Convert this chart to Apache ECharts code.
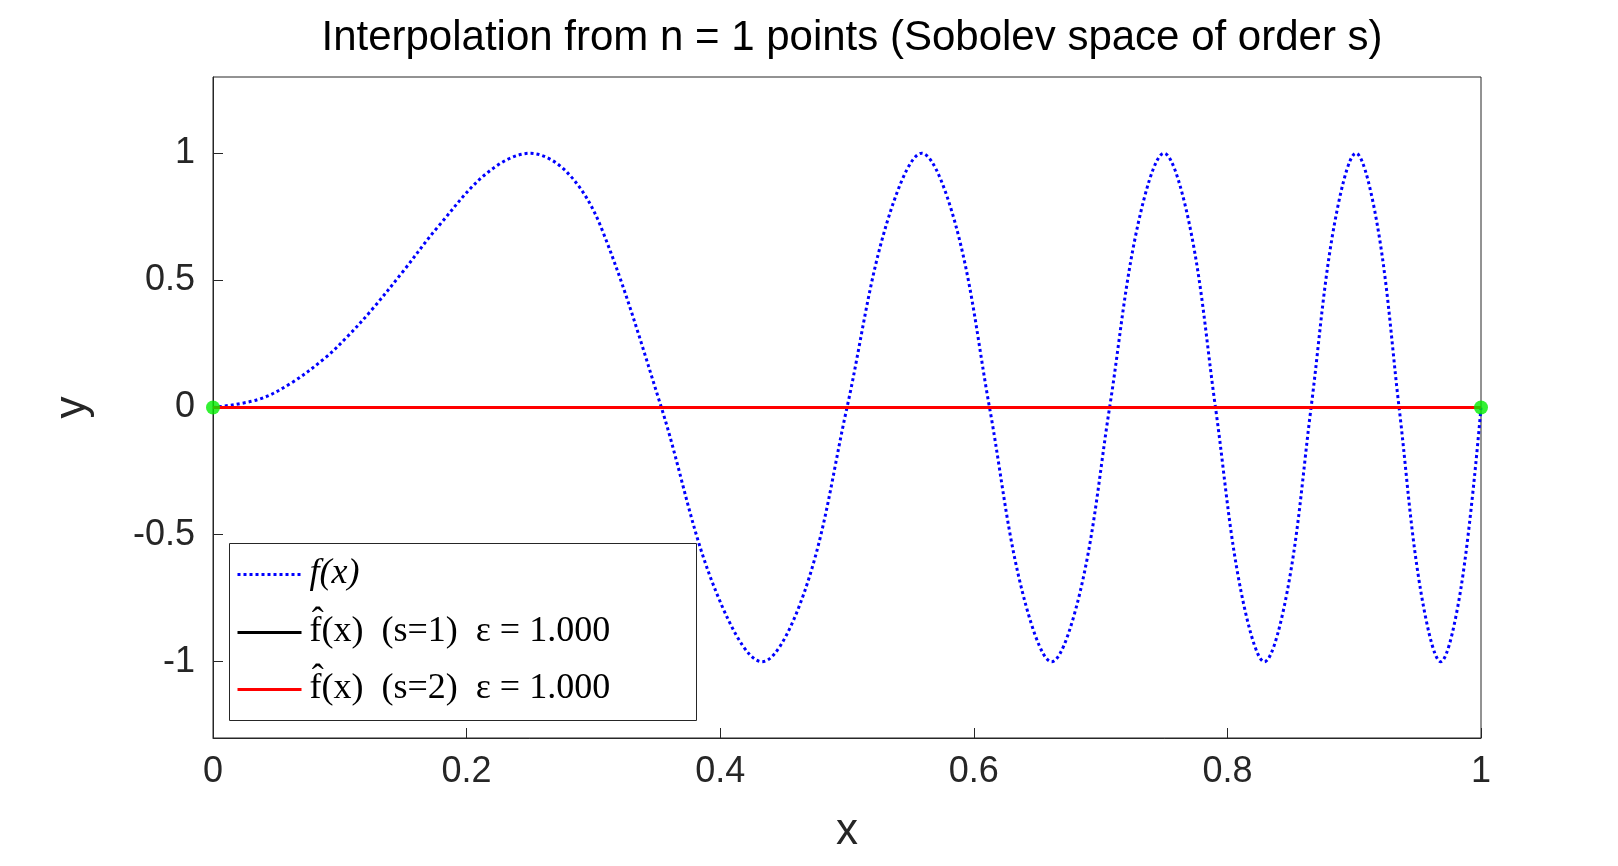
<!DOCTYPE html>
<html><head><meta charset="utf-8">
<script src="https://cdn.jsdelivr.net/npm/echarts@6/dist/echarts.min.js"></script>
<style>html,body{margin:0;background:#fff}#c{width:1618px;height:866px}</style>
</head><body><div id="c"></div>
<script>
// f(x) samples: [x, y]
const fX = [0,0.0354,0.061,0.0884,0.106,0.125,0.15,0.1768,0.2165,0.25,0.2795,0.3062,0.3536,0.3953,0.433,0.4677,0.5,0.5303,0.559,0.5863,0.6124,0.6374,0.6614,0.6847,0.7071,0.7289,0.75,0.7706,0.7906,0.8101,0.8292,0.8478,0.866,0.8839,0.9014,0.9186,0.9354,0.952,0.9682,0.9843,1];
const fY = [0,0.031,0.094,0.195,0.279,0.383,0.536,0.707,0.924,1,0.924,0.707,0,-0.707,-1,-0.707,0,0.707,1,0.707,0,-0.707,-1,-0.707,0,0.707,1,0.707,0,-0.707,-1,-0.707,0,0.707,1,0.707,0,-0.707,-1,-0.707,0];
const interpS1 = [[0,0],[1,0]];
const interpS2 = [[0,0],[1,0]];
const nodes = [[0,0],[1,0]];
const yTicks = [-1,-0.5,0,0.5,1];

const chart = echarts.init(document.getElementById('c'));
const lbl = {fontFamily:'Liberation Sans', fontSize:36, color:'#262626'};
const tick = {inside:true, length:10, lineStyle:{color:'#262626'}};
chart.setOption({
  animation:false,
  title:{text:'Interpolation from n = 1 points (Sobolev space of order s)', left:847, top:12, textAlign:'center',
    textStyle:{fontFamily:'Liberation Sans', fontSize:42, fontWeight:'normal', color:'#000'}},
  grid:{left:213, right:137, top:77, bottom:128, show:true, borderColor:'#262626', borderWidth:1},
  xAxis:{type:'value', min:0, max:1, interval:0.2,
    axisLine:{onZero:false, lineStyle:{color:'#262626'}}, axisTick:tick, splitLine:{show:false},
    axisLabel:Object.assign({margin:16, formatter:v=>String(+v.toFixed(1))}, lbl),
    name:'x', nameLocation:'middle', nameGap:72, nameTextStyle:{fontFamily:'Liberation Sans', fontSize:44, color:'#262626'}},
  yAxis:{type:'value', min:-1.3, max:1.3,
    axisLine:{onZero:false, lineStyle:{color:'#262626'}}, splitLine:{show:false},
    axisTick:Object.assign({customValues:yTicks}, tick),
    axisLabel:Object.assign({customValues:yTicks, margin:18, formatter:v=>String(+(+v).toFixed(1))}, lbl),
    name:'y', nameLocation:'middle', nameGap:118, nameTextStyle:{fontFamily:'Liberation Sans', fontSize:44, color:'#262626'}},
  series:[
    {type:'line', data:fX.map((x,i)=>[x,fY[i]]), smooth:0.35, showSymbol:false, lineStyle:{color:'#0000ff', width:3, type:[3,3]}},
    {type:'line', data:interpS1, showSymbol:false, lineStyle:{color:'#000', width:3}},
    {type:'line', data:interpS2, showSymbol:false, lineStyle:{color:'#ff0000', width:3}},
    {type:'scatter', data:nodes, symbolSize:14, itemStyle:{color:'#00ee00'}, z:5}
  ],
  graphic:[{type:'group', left:229, top:543, z:100, children:[
    {type:'rect', shape:{x:0,y:0,width:467,height:177}, style:{fill:'#fff', stroke:'#262626', lineWidth:1}},
    {type:'line', shape:{x1:8,y1:31,x2:72,y2:31}, style:{stroke:'#0000ff', lineWidth:3, lineDash:[3,3]}},
    {type:'line', shape:{x1:8,y1:89,x2:72,y2:89}, style:{stroke:'#000', lineWidth:3}},
    {type:'line', shape:{x1:8,y1:146,x2:72,y2:146}, style:{stroke:'#ff0000', lineWidth:3}},
    {type:'text', x:80, y:12, style:{text:'f(x)', font:'italic 36px "Liberation Serif"', fill:'#000'}},
    {type:'text', x:80, y:70, style:{text:'f̂(x)  (s=1)  ε = 1.000', font:'36px "Liberation Serif"', fill:'#000'}},
    {type:'text', x:80, y:127, style:{text:'f̂(x)  (s=2)  ε = 1.000', font:'36px "Liberation Serif"', fill:'#000'}}
  ]}]
});
</script></body></html>
